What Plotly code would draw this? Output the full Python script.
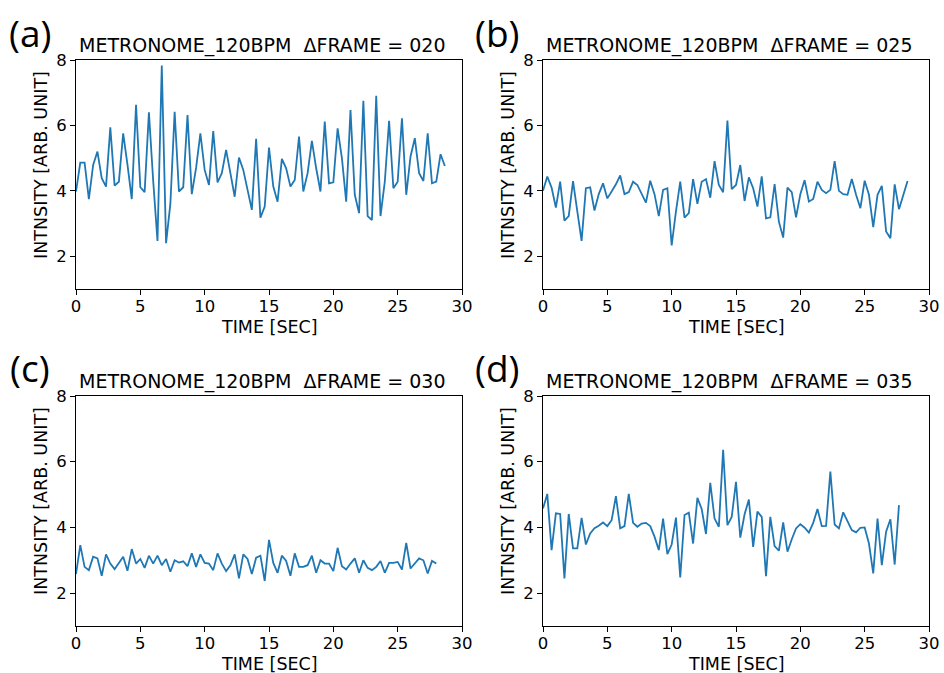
import plotly.graph_objects as go

SAMPLE_INTERVAL = 1.0 / 3.0  # seconds between samples

PANEL_LABELS = ["(a)", "(b)", "(c)", "(d)"]
TITLES = [
    "METRONOME_120BPM  \u0394FRAME = 020",
    "METRONOME_120BPM  \u0394FRAME = 025",
    "METRONOME_120BPM  \u0394FRAME = 030",
    "METRONOME_120BPM  \u0394FRAME = 035",
]
X_TICKS = [0, 5, 10, 15, 20, 25, 30]
Y_TICKS = [2, 4, 6, 8]
X_LABEL = "TIME [SEC]"
Y_LABEL = "INTNSITY [ARB. UNIT]"

intensity_a = [
    3.98, 4.86, 4.86, 3.75, 4.79, 5.20, 4.39, 4.13, 5.94, 4.16,
    4.28, 5.76, 4.80, 3.75, 6.63, 4.11, 3.96, 6.40, 4.30, 2.47,
    7.83, 2.40, 3.60, 6.42, 3.98, 4.11, 6.32, 3.90, 4.70, 5.76,
    4.64, 4.18, 5.83, 4.26, 4.54, 5.25, 4.54, 3.82, 5.02, 4.64,
    4.03, 3.42, 5.59, 3.18, 3.52, 5.32, 4.13, 3.67, 4.98, 4.69,
    4.13, 4.33, 5.66, 3.98, 4.54, 5.53, 4.69, 3.98, 6.12, 4.23,
    4.26, 5.91, 5.00, 3.67, 6.47, 3.88, 3.32, 6.75, 3.23, 3.11,
    6.91, 3.23, 4.28, 6.14, 4.08, 4.28, 6.22, 3.88, 5.05, 5.61,
    4.54, 4.30, 5.76, 4.23, 4.28, 5.12, 4.76,
]

intensity_b = [
    4.00, 4.44, 4.10, 3.49, 4.28, 3.09, 3.23, 4.30, 3.37, 2.47,
    4.08, 4.11, 3.40, 3.90, 4.23, 3.77, 3.98, 4.20, 4.47, 3.90,
    3.96, 4.28, 4.18, 3.90, 3.64, 4.31, 3.90, 3.23, 4.03, 4.08,
    2.33, 3.37, 4.28, 3.18, 3.32, 4.36, 3.60, 4.28, 4.36, 3.79,
    4.91, 4.18, 3.96, 6.15, 4.05, 4.18, 4.79, 3.69, 4.41, 4.08,
    3.52, 4.44, 3.16, 3.19, 4.21, 3.06, 2.57, 4.10, 3.96, 3.19,
    3.90, 4.33, 3.67, 3.75, 4.28, 4.03, 3.93, 4.03, 4.91, 4.00,
    3.90, 3.88, 4.36, 3.88, 3.47, 4.31, 3.88, 2.89, 3.88, 4.15,
    2.76, 2.55, 4.20, 3.44, 3.88, 4.30,
]

intensity_c = [
    2.58, 3.46, 2.80, 2.70, 3.11, 3.06, 2.53, 3.18, 2.90, 2.73,
    2.92, 3.11, 2.68, 3.34, 2.90, 3.04, 2.77, 3.14, 2.90, 3.14,
    2.85, 3.04, 2.65, 3.00, 2.93, 2.97, 2.82, 3.21, 2.80, 3.18,
    2.92, 2.90, 2.70, 3.21, 2.90, 2.67, 2.85, 3.18, 2.45, 3.18,
    3.04, 2.58, 3.08, 3.14, 2.37, 3.62, 2.92, 2.62, 3.14, 2.98,
    2.53, 3.21, 2.80, 2.80, 2.85, 3.14, 2.62, 3.00, 2.90, 2.90,
    2.67, 3.38, 2.82, 2.72, 2.90, 3.06, 2.62, 3.00, 2.77, 2.70,
    2.80, 2.98, 2.62, 2.92, 2.92, 2.95, 2.72, 3.53, 2.75, 2.90,
    3.06, 3.00, 2.60, 2.98, 2.90,
]

intensity_d = [
    4.58, 5.02, 3.31, 4.43, 4.41, 2.45, 4.41, 3.36, 3.36, 4.29,
    3.48, 3.82, 3.98, 4.05, 4.15, 4.04, 4.22, 4.95, 3.97, 4.04,
    5.02, 4.14, 4.02, 4.12, 4.14, 4.04, 3.72, 3.31, 4.27, 3.19,
    3.48, 4.30, 2.48, 4.38, 4.45, 3.51, 4.90, 4.56, 3.80, 5.36,
    4.27, 4.02, 6.36, 4.07, 4.32, 5.39, 3.69, 4.40, 4.85, 3.41,
    4.48, 4.32, 2.52, 4.32, 3.43, 3.29, 4.15, 3.26, 3.64, 3.97,
    4.10, 3.99, 3.84, 4.14, 4.56, 4.04, 4.05, 5.70, 4.09, 3.97,
    4.46, 4.19, 3.92, 3.85, 3.99, 4.00, 3.51, 2.60, 4.27, 2.85,
    3.87, 4.25, 2.87, 4.68,
]

SERIES = [intensity_a, intensity_b, intensity_c, intensity_d]

W, H = 944, 673
LINE_COLOR = "#1f77b4"
TEXT_FONT = "DejaVu Sans"

# plot-area pixel boxes (left, right, top, bottom)
BOXES = [
    (76, 462, 60, 289),
    (543, 929, 60, 289),
    (76, 462, 396, 626),
    (543, 929, 396, 626),
]

fig = go.Figure()
layout = dict(
    template="none",
    width=W, height=H,
    margin=dict(l=0, r=0, t=0, b=0, pad=0),
    paper_bgcolor="white", plot_bgcolor="white",
    showlegend=False,
    annotations=[],
)

for k, (vals, box) in enumerate(zip(SERIES, BOXES)):
    n = k + 1
    xs = [i * SAMPLE_INTERVAL for i in range(len(vals))]
    xa = "x" if n == 1 else f"x{n}"
    ya = "y" if n == 1 else f"y{n}"
    fig.add_trace(go.Scatter(x=xs, y=vals, mode="lines",
                             line=dict(color=LINE_COLOR, width=1.8),
                             xaxis=xa, yaxis=ya, hoverinfo="skip"))
    l, r, t, b = box
    axis_common = dict(
        automargin=False,
        showline=True, mirror=True, linecolor="black", linewidth=1,
        ticks="outside", ticklen=5, tickwidth=1, tickcolor="black",
        showgrid=False, zeroline=False,
        tickfont=dict(family=TEXT_FONT, size=16.5, color="black"),
    )
    layout["xaxis" if n == 1 else f"xaxis{n}"] = dict(
        axis_common, domain=[l / W, r / W], range=[0, 30],
        tickvals=X_TICKS, anchor=ya, ticklabelstandoff=-3,
    )
    layout["yaxis" if n == 1 else f"yaxis{n}"] = dict(
        axis_common, domain=[1 - b / H, 1 - t / H], range=[1, 8],
        tickvals=Y_TICKS, anchor=xa,
    )
    cx = (l + r) / 2
    # x-axis title
    layout["annotations"].append(dict(
        text=X_LABEL, xref="paper", yref="paper",
        x=cx / W, y=1 - (b + 38) / H, xanchor="center", yanchor="middle",
        showarrow=False, font=dict(family=TEXT_FONT, size=17.5, color="black"),
    ))
    # y-axis title
    layout["annotations"].append(dict(
        text=Y_LABEL, xref="paper", yref="paper", textangle=-90,
        x=(l - 35) / W, y=1 - (t + 105) / H, xanchor="center", yanchor="middle",
        showarrow=False, font=dict(family=TEXT_FONT, size=17.5, color="black"),
    ))
    # panel title
    layout["annotations"].append(dict(
        text=TITLES[k], xref="paper", yref="paper",
        x=(l + 1) / W, y=1 - (t - 14.5) / H, xanchor="left", yanchor="middle",
        showarrow=False, font=dict(family=TEXT_FONT, size=19, color="black"),
    ))
    # panel letter
    layout["annotations"].append(dict(
        text=PANEL_LABELS[k], xref="paper", yref="paper",
        x=(l - 46) / W, y=1 - (t - 28) / H, xanchor="center", yanchor="middle",
        showarrow=False, font=dict(family="Open Sans", size=37, color="black"),
    ))

fig.update_layout(**layout)
fig.write_html("out.html", config={"displayModeBar": False},
               post_script="document.body.style.margin='0';document.body.style.overflow='hidden';")
